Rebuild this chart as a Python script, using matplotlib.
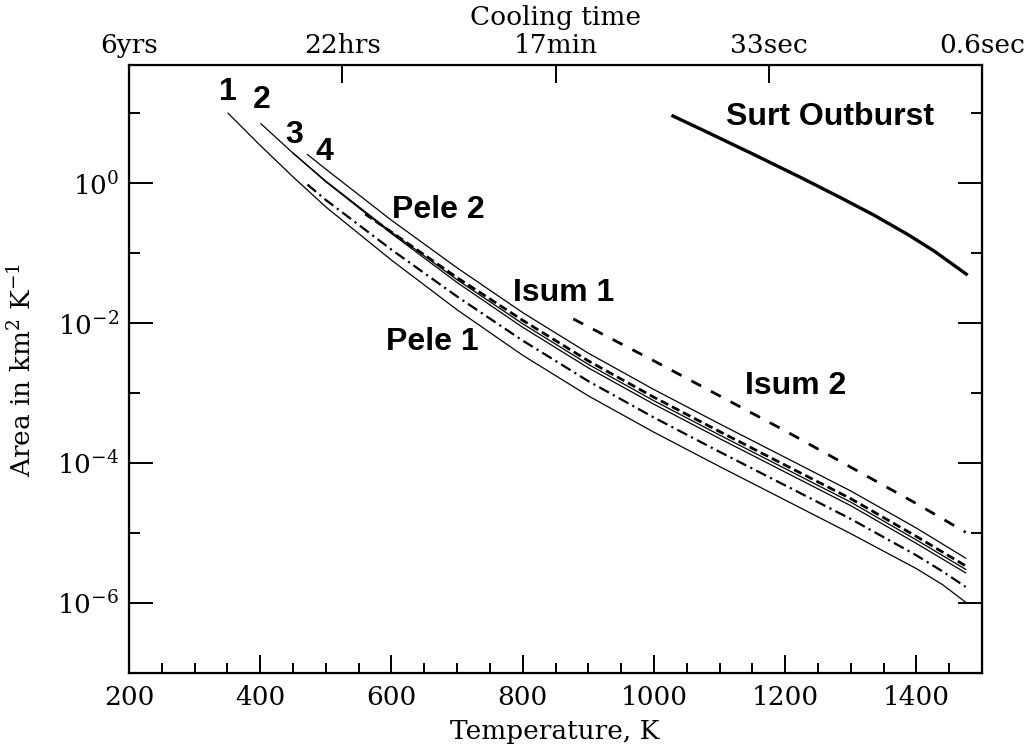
import numpy as np
import matplotlib.pyplot as plt

plt.rcParams['mathtext.fontset'] = 'dejavuserif'
plt.rcParams['font.family'] = 'DejaVu Serif'

# --- data (temperature in K, log10 of area in km^2 K^-1) ---
t_curve1 = [351, 400, 450, 500, 600, 700, 800, 900, 1000, 1100, 1200, 1300, 1400, 1440, 1475]
a_curve1 = [1.00, 0.54, 0.09, -0.34, -1.10, -1.81, -2.46, -3.04, -3.56, -4.05, -4.53, -5.01, -5.51, -5.74, -5.99]

t_curve2 = [401, 450, 500, 600, 700, 800, 900, 1000, 1100, 1200, 1300, 1400, 1475]
a_curve2 = [0.85, 0.43, 0.02, -0.72, -1.42, -2.06, -2.64, -3.16, -3.65, -4.13, -4.61, -5.15, -5.57]

t_curve3 = [450, 500, 600, 700, 800, 900, 1000, 1100, 1200, 1300, 1400, 1475]
a_curve3 = [0.43, 0.03, -0.70, -1.38, -2.01, -2.59, -3.11, -3.60, -4.08, -4.56, -5.10, -5.52]

t_curve4 = [472, 500, 600, 700, 800, 900, 1000, 1100, 1200, 1300, 1400, 1475]
a_curve4 = [0.41, 0.20, -0.53, -1.21, -1.85, -2.43, -2.95, -3.44, -3.92, -4.40, -4.93, -5.36]

t_pele2 = [560, 600, 700, 800, 900, 1000, 1100, 1200, 1300, 1400, 1475]
a_pele2 = [-0.44, -0.70, -1.35, -1.96, -2.54, -3.06, -3.55, -4.03, -4.51, -5.05, -5.47]

t_pele1 = [472, 500, 600, 700, 800, 900, 1000, 1100, 1200, 1300, 1400, 1440, 1475]
a_pele1 = [-0.02, -0.24, -0.95, -1.62, -2.25, -2.83, -3.35, -3.84, -4.32, -4.80, -5.32, -5.55, -5.77]

t_isum2 = [877, 1000, 1100, 1200, 1300, 1400, 1475]
a_isum2 = [-1.94, -2.54, -3.04, -3.54, -4.06, -4.58, -4.99]

t_surt = [1029, 1072, 1150, 1224, 1285, 1336, 1388, 1427, 1476]
a_surt = [0.96, 0.77, 0.42, 0.08, -0.21, -0.46, -0.74, -0.97, -1.30]

x_ticks = [200, 400, 600, 800, 1000, 1200, 1400]
top_ticks = [200, 525, 850, 1175, 1500]
top_labels = ['6yrs', '22hrs', '17min', '33sec', '0.6sec']
y_ticks = [1e0, 1e-2, 1e-4, 1e-6]
y_labels = ['$10^{0}$', '$10^{-2}$', '$10^{-4}$', '$10^{-6}$']

fig = plt.figure(figsize=(10.32, 7.51), dpi=100)
ax = fig.add_axes([0.125, 0.104, 0.8266, 0.8095])

def draw(t, a, **kw):
    ax.plot(t, np.power(10.0, a), color='black', **kw)

draw(t_curve1, a_curve1, lw=0.9)
draw(t_curve2, a_curve2, lw=0.9)
draw(t_curve3, a_curve3, lw=0.9)
draw(t_curve4, a_curve4, lw=0.9)
draw(t_pele2, a_pele2, lw=2.0, ls=(0, (3, 1.5)))
draw(t_pele1, a_pele1, lw=1.6, ls=(0, (5, 2, 1, 2)))
draw(t_isum2, a_isum2, lw=2.0, ls=(0, (4, 4)))
draw(t_surt, a_surt, lw=2.4)

ax.set_yscale('log')
ax.set_xlim(200, 1500)
ax.set_ylim(1e-7, 10 ** 1.69)

ax.set_xticks(x_ticks)
ax.set_xticks(np.arange(250, 1500, 50), minor=True)
ax.set_yticks(y_ticks)
ax.set_yticklabels(y_labels)
ax.set_yticks([1e1, 1e-1, 1e-3, 1e-5], minor=True)
ax.yaxis.set_minor_formatter(plt.NullFormatter())

ax.tick_params(which='both', direction='in', top=False, right=True, width=1.4, labelsize=19)
ax.tick_params(axis='x', which='major', length=13, pad=9)
ax.tick_params(axis='x', which='minor', length=7)
ax.tick_params(axis='y', which='major', length=17, pad=7)
ax.tick_params(axis='y', which='minor', length=8)
for s in ax.spines.values():
    s.set_linewidth(1.6)

# cooling time axis on top
ax2 = ax.twiny()
ax2.set_xlim(200, 1500)
ax2.set_xticks(top_ticks)
ax2.set_xticklabels(top_labels)
ax2.tick_params(direction='in', length=13, width=1.4, labelsize=19, pad=5)

fig.text(555 / 1032, 1 - 18 / 751, 'Cooling time', ha='center', va='center', fontsize=19)
fig.text(555 / 1032, 1 - 731 / 751, 'Temperature, K', ha='center', va='center', fontsize=19)
fig.text(22 / 1032, 1 - 370 / 751, 'Area in km$^{2}$ K$^{-1}$', ha='center', va='center',
         rotation=90, fontsize=19)

# bold labels on the curves
labels = ['1', '2', '3', '4', 'Pele 2', 'Isum 1', 'Pele 1', 'Isum 2', 'Surt Outburst']
label_t = [351, 403, 452, 497, 671, 862, 662, 1216, 1269]
label_a = [1.30, 1.19, 0.69, 0.44, -0.39, -1.57, -2.27, -2.90, 0.94]
for txt, t, a in zip(labels, label_t, label_a):
    ax.text(t, 10 ** a, txt, ha='center', va='center', fontsize=23,
            fontweight='bold', family='Liberation Sans')

fig.savefig('out.png', dpi=100)
